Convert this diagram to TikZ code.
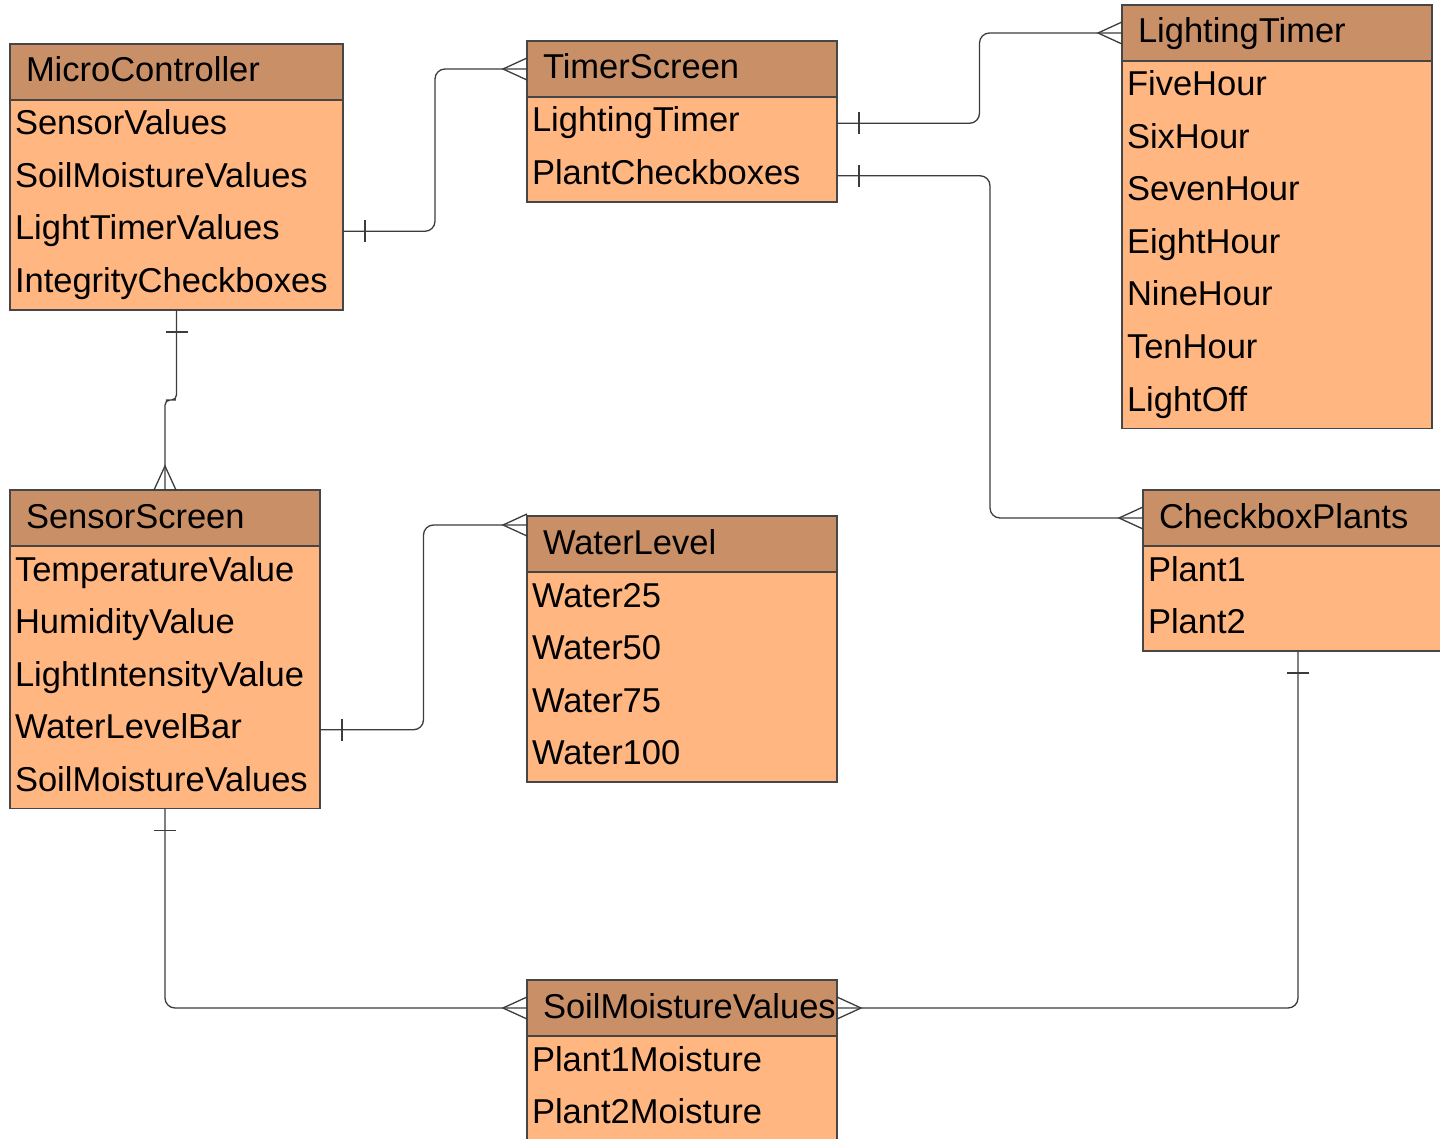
\documentclass[tikz,border=0pt]{standalone}
\usepackage{fontspec}
\setmainfont{Liberation Sans}
\usetikzlibrary{calc}

\definecolor{hdrfill}{RGB}{201,144,104}
\definecolor{bodyfill}{RGB}{255,182,128}
\definecolor{edgecol}{RGB}{70,70,70}
\definecolor{linkcol}{RGB}{60,60,60}

\tikzset{
  boxbase/.style={draw=edgecol, line width=1.3pt, inner sep=0pt, outer sep=0pt},
  hdrbox/.style={boxbase, fill=hdrfill, minimum height=56pt},
  bodybox/.style={boxbase, fill=bodyfill},
  rowcell/.style={inner sep=0pt, outer sep=0pt, minimum height=52.5pt},
  ertext/.style={inner sep=0pt, outer sep=0pt, text=black, font=\fontsize{34.5pt}{40pt}\selectfont},
  conn/.style={draw=linkcol, line width=1.3pt},
}

% entity table: name, left, top, width, number of rows, title, rows
\newcommand\ertable[7]{%
  \node[hdrbox, minimum width=#4pt, anchor=north west] (#1-h) at (#2,#3) {};
  \node[ertext, anchor=base west] (#1-t) at ([xshift=16pt,yshift=-38pt]#1-h.north west) {#6};
  \node[bodybox, minimum width=#4pt, minimum height=#5*52.5pt, anchor=north west] (#1-b) at (#1-h.south west) {};
  \foreach \r [count=\i] in {#7} {
    \node[rowcell, minimum width=#4pt, anchor=north west] (#1-\i) at ([yshift={-(\i-1)*52.5pt}]#1-b.north west) {};
    \node[ertext, anchor=base west] (#1-\i-t) at ([xshift=5pt,yshift=-35pt]#1-\i.north west) {\r};
  }%
}

% crow's foot (many) and bar (one) end marks
\newcommand\crowW[1]{\draw[conn] ([yshift=11pt]#1) -- ([xshift=-24pt]#1) -- ([yshift=-11pt]#1);}
\newcommand\crowE[1]{\draw[conn] ([yshift=11pt]#1) -- ([xshift=24pt]#1) -- ([yshift=-11pt]#1);}
\newcommand\crowN[1]{\draw[conn] ([xshift=-11pt]#1) -- ([yshift=24pt]#1) -- ([xshift=11pt]#1);}
\newcommand\barE[1]{\draw[conn] ([xshift=22pt,yshift=11pt]#1) -- ([xshift=22pt,yshift=-11pt]#1);}
\newcommand\barS[1]{\draw[conn] ([xshift=-11pt,yshift=-22pt]#1) -- ([xshift=11pt,yshift=-22pt]#1);}

\begin{document}
\begin{tikzpicture}[x=1pt,y=-1pt]
\clip (0,0) rectangle (1440,1139);
\fill[white] (0,0) rectangle (1440,1139);

\ertable{mc}{10}{44}{333}{4}{MicroController}{SensorValues,SoilMoistureValues,LightTimerValues,IntegrityCheckboxes}
\ertable{ts}{527}{41}{310}{2}{TimerScreen}{LightingTimer,PlantCheckboxes}
\ertable{lt}{1122}{5}{310}{7}{LightingTimer}{FiveHour,SixHour,SevenHour,EightHour,NineHour,TenHour,LightOff}
\ertable{ss}{10}{490}{310}{5}{SensorScreen}{TemperatureValue,HumidityValue,LightIntensityValue,WaterLevelBar,SoilMoistureValues}
\ertable{wl}{527}{516}{310}{4}{WaterLevel}{Water25,Water50,Water75,Water100}
\ertable{cp}{1143}{490}{310}{2}{CheckboxPlants}{Plant1,Plant2}
\ertable{sm}{527}{980}{310}{2}{SoilMoistureValues}{Plant1Moisture,Plant2Moisture}

\coordinate (wl-in) at ([yshift=-9pt]wl-h.north west);

% relationships
\draw[conn, rounded corners=10pt] (mc-3.east) -| ($(mc-3.east)!0.5!(ts-h.west)$) |- (ts-h.west);
\draw[conn, rounded corners=10pt] (ts-1.east) -| ($(ts-1.east)!0.5!(lt-h.west)$) |- (lt-h.west);
\draw[conn, rounded corners=10pt] (ts-2.east) -| ($(ts-2.east)!0.5!(cp-h.west)$) |- (cp-h.west);
\draw[conn, rounded corners=5pt] (mc-b.south) |- ($(mc-b.south)!0.5!(ss-h.north)$) -| (ss-h.north);
\draw[conn, rounded corners=10pt] (ss-4.east) -| ($(ss-4.east)!0.5!(wl-in)$) |- (wl-in);
\draw[conn, rounded corners=10pt] (ss-b.south) |- (sm-h.west);
\draw[conn, rounded corners=10pt] (cp-b.south) |- (sm-h.east);

\crowW{ts-h.west}
\crowW{lt-h.west}
\crowW{cp-h.west}
\crowW{wl-in}
\crowW{sm-h.west}
\crowE{sm-h.east}
\crowN{ss-h.north}

\barE{mc-3.east}
\barE{ts-1.east}
\barE{ts-2.east}
\barE{ss-4.east}
\barS{mc-b.south}
\barS{ss-b.south}
\barS{cp-b.south}
\end{tikzpicture}
\end{document}
